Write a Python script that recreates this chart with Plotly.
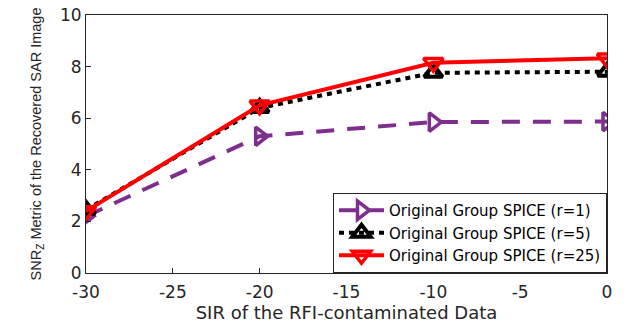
import plotly.graph_objects as go

sir = [-30, -20, -10, 0]
snr_r1 = [2.2, 5.3, 5.85, 5.87]
snr_r5 = [2.45, 6.4, 7.76, 7.8]
snr_r25 = [2.4, 6.5, 8.15, 8.32]
names = ["Original Group SPICE (r=1)", "Original Group SPICE (r=5)", "Original Group SPICE (r=25)"]
xticks = [-30, -25, -20, -15, -10, -5, 0]
xticklabels = ["-30", "-25", "-20", "-15", "-10", "-5", "0"]
yticks = [0, 2, 4, 6, 8, 10]
yticklabels = ["0", "2", "4", "6", "8", "10"]

fig = go.Figure()
fig.add_trace(go.Scatter(x=sir, y=snr_r1, name=names[0], mode="lines+markers",
                         line=dict(color="#7E2F8E", width=4, dash="18px,13px"),
                         marker=dict(symbol="triangle-right-open", size=16, color="#7E2F8E",
                                     line=dict(width=3.5, color="#7E2F8E"))))
fig.add_trace(go.Scatter(x=sir, y=snr_r5, name=names[1], mode="lines+markers",
                         line=dict(color="black", width=4, dash="5px,5px"),
                         marker=dict(symbol="triangle-up-open", size=16, color="black",
                                     line=dict(width=4, color="black"))))
fig.add_trace(go.Scatter(x=sir, y=snr_r25, name=names[2], mode="lines+markers",
                         line=dict(color="#FF0000", width=4),
                         marker=dict(symbol="triangle-down-open", size=17, color="#FF0000",
                                     line=dict(width=3.5, color="#FF0000"))))

tickfont = dict(family="DejaVu Sans", size=17, color="#262626")
axis_common = dict(showgrid=False, zeroline=False, showline=True, linecolor="#262626",
                   linewidth=1, mirror=True, ticks="inside", ticklen=5, tickcolor="#262626",
                   tickfont=tickfont, automargin=False)
fig.update_xaxes(range=[-30, 0], tickvals=xticks, ticktext=xticklabels, ticklabelstandoff=4,
                 title=dict(text="SIR of the RFI-contaminated Data", standoff=2,
                            font=dict(family="DejaVu Sans", size=18, color="#262626")),
                 **axis_common)
fig.update_yaxes(range=[0, 10], tickvals=yticks, ticktext=yticklabels,
                 title=dict(text="SNR<sub>Z</sub> Metric of the Recovered SAR Image", standoff=14,
                            font=dict(family="Liberation Sans", size=14.5, color="#262626")),
                 **axis_common)
fig.update_layout(width=643, height=324, margin=dict(l=86, r=36, t=15, b=51),
                  plot_bgcolor="white", paper_bgcolor="white",
                  legend=dict(x=1, y=0, xanchor="right", yanchor="bottom",
                              bgcolor="white", bordercolor="#262626", borderwidth=1,
                              font=dict(family="DejaVu Sans", size=15, color="black"),
                              tracegroupgap=0, itemwidth=45))
fig.write_html("out.html")
